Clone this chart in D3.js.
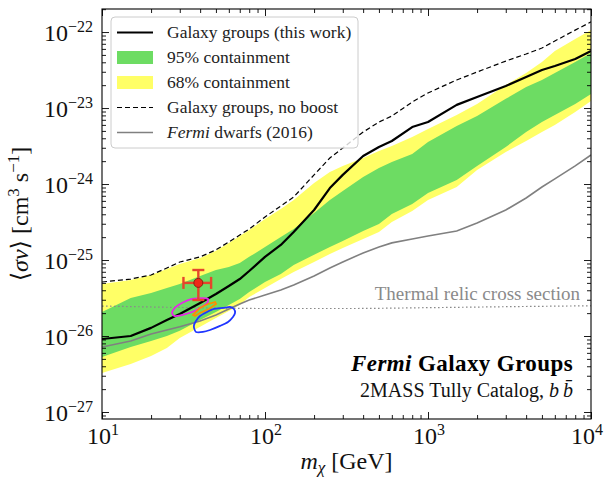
<!DOCTYPE html>
<html>
<head>
<meta charset="utf-8">
<script src="https://cdn.jsdelivr.net/npm/d3@7"></script>
<style>
  body { margin: 0; background: #fff; }
  svg text { font-family: "Liberation Serif", "Times New Roman", "DejaVu Serif", serif; }
</style>
</head>
<body>
<svg id="chart" width="606" height="481"></svg>
<script>
// Dark-matter mass grid (GeV)
const masses = [10, 15, 20, 25, 30, 40, 50, 60, 70, 80, 100, 125, 150, 200, 250, 300, 400, 500, 600, 800,
                1000, 1500, 2000, 3000, 4000, 5000, 6000, 8000, 10000];

// Upper limits on <sigma v> (cm^3 s^-1), b-bbar channel
const limitGroups = [9.13e-27, 1.00e-26, 1.28e-26, 1.62e-26, 1.95e-26, 2.72e-26, 3.57e-26, 4.55e-26, 5.62e-26, 7.17e-26,
                     1.10e-25, 1.58e-25, 2.34e-25, 4.55e-25, 8.86e-25, 1.32e-24, 2.34e-24, 3.07e-24, 3.68e-24, 5.62e-24,
                     6.55e-24, 1.10e-23, 1.40e-23, 1.95e-23, 2.56e-23, 3.16e-23, 3.57e-23, 4.41e-23, 5.62e-23];
const limitNoBoost = [5.14e-26, 5.62e-26, 6.35e-26, 7.85e-26, 9.41e-26, 1.10e-25, 1.36e-25, 1.73e-25, 2.13e-25, 2.56e-25,
                      3.68e-25, 5.14e-25, 6.75e-25, 1.32e-24, 2.20e-24, 2.98e-24, 4.83e-24, 6.55e-24, 7.85e-24, 1.20e-23,
                      1.58e-23, 2.34e-23, 2.98e-23, 4.15e-23, 5.14e-23, 6.16e-23, 7.62e-23, 1.06e-22, 1.36e-22];
const dwarfs2016 = [7.17e-27, 8.59e-27, 1.06e-26, 1.20e-26, 1.32e-26, 1.58e-26, 1.89e-26, 2.27e-26, 2.64e-26, 2.98e-26,
                    3.46e-26, 4.03e-26, 4.69e-26, 6.16e-26, 7.85e-26, 9.41e-26, 1.24e-25, 1.48e-25, 1.68e-25, 1.89e-25,
                    2.07e-25, 2.41e-25, 3.07e-25, 4.55e-25, 6.55e-25, 9.13e-25, 1.17e-24, 1.73e-24, 2.41e-24];

// Containment bands of the expected limit
const band95Hi = [2.07e-26, 3.16e-26, 3.68e-26, 4.28e-26, 4.83e-26, 6.16e-26, 7.39e-26, 8.09e-26, 9.13e-26, 1.10e-25,
                  1.48e-25, 2.01e-25, 2.56e-25, 4.15e-25, 6.16e-25, 8.09e-25, 1.24e-24, 1.62e-24, 1.95e-24, 2.48e-24,
                  3.57e-24, 5.80e-24, 7.85e-24, 1.32e-23, 1.89e-23, 2.34e-23, 2.89e-23, 4.03e-23, 5.29e-23];
const band95Lo = [5.29e-27, 7.17e-27, 8.59e-27, 1.00e-26, 1.17e-26, 1.62e-26, 2.07e-26, 2.56e-26, 3.07e-26, 3.79e-26,
                  5.14e-26, 6.55e-26, 8.59e-26, 1.17e-25, 1.48e-25, 1.78e-25, 2.41e-25, 2.98e-25, 4.03e-25, 5.46e-25,
                  7.62e-25, 1.13e-24, 1.73e-24, 3.07e-24, 4.83e-24, 6.55e-24, 8.09e-24, 1.13e-23, 1.53e-23];
const band68Hi = [4.83e-26, 5.46e-26, 6.35e-26, 7.62e-26, 8.86e-26, 1.06e-25, 1.32e-25, 1.68e-25, 2.07e-25, 2.48e-25,
                  3.46e-25, 4.69e-25, 6.16e-25, 1.03e-24, 1.44e-24, 1.73e-24, 2.20e-24, 2.72e-24, 3.16e-24, 4.15e-24,
                  5.29e-24, 8.09e-24, 1.13e-23, 2.01e-23, 2.89e-23, 4.03e-23, 5.62e-23, 8.09e-23, 1.06e-22];
const band68Lo = [3.26e-27, 4.28e-27, 5.46e-27, 6.95e-27, 9.41e-27, 1.32e-26, 1.73e-26, 2.13e-26, 2.56e-26, 3.26e-26,
                  4.28e-26, 5.62e-26, 6.95e-26, 9.41e-26, 1.20e-25, 1.44e-25, 1.89e-25, 2.34e-25, 3.16e-25, 4.41e-25,
                  6.16e-25, 9.13e-25, 1.53e-24, 2.64e-24, 3.68e-24, 4.83e-24, 5.98e-24, 8.86e-24, 1.24e-23];

// Thermal relic cross section
const thermalMass = [10, 20, 50, 100, 300, 1000, 3000, 10000];
const thermalRelic = [2.48e-26, 2.41e-26, 2.34e-26, 2.30e-26, 2.30e-26, 2.36e-26, 2.43e-26, 2.50e-26];

// Galactic Center excess best fit and contours
const gcePoint = { mass: 39, sv: 5.0e-26 };
const gceMassRange = [31.6, 46.7];
const gceSvRange = [2.98e-26, 7.39e-26];
const contourMagenta = [[26.9, 2.01e-26], [28.4, 2.41e-26], [30.9, 2.72e-26], [35.7, 3.07e-26], [41.1, 3.16e-26],
                        [44.7, 3.07e-26], [44.1, 2.72e-26], [39.9, 2.34e-26], [35.7, 2.07e-26], [30.9, 1.89e-26],
                        [28.0, 1.83e-26]];
const contourOrange = [[36.2, 1.89e-26], [39.9, 2.34e-26], [44.7, 2.64e-26], [49.4, 2.80e-26], [50.1, 2.64e-26],
                       [45.3, 2.27e-26], [39.9, 2.01e-26], [37.2, 1.83e-26]];
const contourBlue = [[37.7, 1.58e-26], [39.9, 1.83e-26], [44.1, 2.07e-26], [48.7, 2.27e-26], [55.3, 2.34e-26],
                     [61.0, 2.41e-26], [64.5, 2.27e-26], [65.5, 2.01e-26], [63.6, 1.78e-26], [59.3, 1.53e-26],
                     [53.0, 1.36e-26], [46.0, 1.20e-26], [41.6, 1.13e-26], [37.7, 1.13e-26], [36.7, 1.28e-26],
                     [36.7, 1.40e-26]];

// Axis ticks and legend text
const xMajor = [10, 100, 1000, 10000];
const xMajorExp = ["1", "2", "3", "4"];
const yMajor = [1e-27, 1e-26, 1e-25, 1e-24, 1e-23, 1e-22];
const yMajorExp = ["\u221227", "\u221226", "\u221225", "\u221224", "\u221223", "\u221222"];
const legendLabels = ["Galaxy groups (this work)", "95% containment", "68% containment",
                      "Galaxy groups, no boost", "dwarfs (2016)"];

const L = 102, R = 591, T = 9, B = 419;
const svg = d3.select("#chart");

const x = d3.scaleLog().domain([10, 1e4]).range([L, R]);
const y = d3.scaleLog().domain([8.09e-28, 2.01e-22]).range([B, T]);

svg.append("defs").append("clipPath").attr("id", "plotclip")
  .append("rect").attr("x", L).attr("y", T).attr("width", R - L).attr("height", B - T);

const plot = svg.append("g").attr("clip-path", "url(#plotclip)");

const idx = d3.range(masses.length);
const area = (lo, hi) => d3.area().x(i => x(masses[i])).y0(i => y(lo[i])).y1(i => y(hi[i]));
const curve = vals => d3.line().x(i => x(masses[i])).y(i => y(vals[i]));

const YELLOW = "#ffff66", GREEN = "#6ddc63";
plot.append("path").attr("d", area(band68Lo, band68Hi)(idx)).attr("fill", YELLOW);
plot.append("path").attr("d", area(band95Lo, band95Hi)(idx)).attr("fill", GREEN);

// thermal relic (dotted)
plot.append("path")
  .attr("d", d3.line().x(d => x(d[0])).y(d => y(d[1])).curve(d3.curveMonotoneX)(d3.zip(thermalMass, thermalRelic)))
  .attr("fill", "none").attr("stroke", "#8a8a8a").attr("stroke-width", 1.2).attr("stroke-dasharray", "1.6,2.4");

plot.append("path").attr("d", curve(dwarfs2016)(idx))
  .attr("fill", "none").attr("stroke", "#808080").attr("stroke-width", 1.6);
plot.append("path").attr("d", curve(limitNoBoost)(idx))
  .attr("fill", "none").attr("stroke", "#000").attr("stroke-width", 1.2).attr("stroke-dasharray", "5,3");
plot.append("path").attr("d", curve(limitGroups)(idx))
  .attr("fill", "none").attr("stroke", "#000").attr("stroke-width", 2.2).attr("stroke-linejoin", "round");

// contours
const closed = d3.line().x(d => x(d[0])).y(d => y(d[1])).curve(d3.curveCardinalClosed.tension(0.3));
plot.append("path").attr("d", closed(contourMagenta)).attr("fill", "none").attr("stroke", "#e826e8").attr("stroke-width", 1.8);
plot.append("path").attr("d", d3.line().x(d => x(d[0])).y(d => y(d[1])).curve(d3.curveLinearClosed)(contourOrange))
  .attr("fill", "none").attr("stroke", "#ff8c00").attr("stroke-width", 1.8);
plot.append("path").attr("d", closed(contourBlue)).attr("fill", "none").attr("stroke", "#1f35ff").attr("stroke-width", 1.8);

// best-fit point with error bars
const EB = "#e5462b";
const px = x(gcePoint.mass), py = y(gcePoint.sv);
const eb = plot.append("g").attr("stroke", EB).attr("stroke-width", 2.4).attr("fill", "none");
eb.append("line").attr("x1", x(gceMassRange[0])).attr("x2", x(gceMassRange[1])).attr("y1", py).attr("y2", py);
eb.append("line").attr("x1", px).attr("x2", px).attr("y1", y(gceSvRange[0])).attr("y2", y(gceSvRange[1]));
[gceMassRange[0], gceMassRange[1]].forEach(m =>
  eb.append("line").attr("x1", x(m)).attr("x2", x(m)).attr("y1", py - 6).attr("y2", py + 6));
[gceSvRange[0], gceSvRange[1]].forEach(s =>
  eb.append("line").attr("x1", px - 6).attr("x2", px + 6).attr("y1", y(s)).attr("y2", y(s)));
plot.append("circle").attr("cx", px).attr("cy", py).attr("r", 4.5)
  .attr("fill", "#ee2a18").attr("stroke", "#8c1d10").attr("stroke-width", 1);

// ticks on all four sides, pointing inward
const xMinor = [];
[10, 100, 1000].forEach(d => { for (let k = 2; k <= 9; k++) xMinor.push(k * d); });
const yMinor = [];
[-28, -27, -26, -25, -24, -23, -22].forEach(e => {
  for (let k = 2; k <= 9; k++) { const v = k * Math.pow(10, e); if (v > y.domain()[0] && v < y.domain()[1]) yMinor.push(v); }
});
function ticks(gen, tr, vals, size) {
  svg.append("g").attr("transform", tr)
    .call(gen.tickValues(vals).tickSize(size).tickSizeOuter(0).tickFormat(""))
    .call(g => g.select(".domain").remove())
    .call(g => g.selectAll("line").attr("stroke", "#000").attr("stroke-width", 0.9));
}
ticks(d3.axisBottom(x), `translate(0,${B})`, xMajor, -7);
ticks(d3.axisBottom(x), `translate(0,${B})`, xMinor, -4);
ticks(d3.axisTop(x), `translate(0,${T})`, xMajor, -7);
ticks(d3.axisTop(x), `translate(0,${T})`, xMinor, -4);
ticks(d3.axisLeft(y), `translate(${L},0)`, yMajor, -7);
ticks(d3.axisLeft(y), `translate(${L},0)`, yMinor, -4);
ticks(d3.axisRight(y), `translate(${R},0)`, yMajor, -7);
ticks(d3.axisRight(y), `translate(${R},0)`, yMinor, -4);

svg.append("rect").attr("x", L).attr("y", T).attr("width", R - L).attr("height", B - T)
  .attr("fill", "none").attr("stroke", "#000").attr("stroke-width", 1.1);

// tick labels 10^n
function powerLabel(tx, ty, anchor, exp) {
  const t = svg.append("text").attr("x", tx).attr("y", ty).attr("text-anchor", anchor)
    .attr("font-size", 24).attr("fill", "#111");
  t.append("tspan").text("10");
  t.append("tspan").attr("dy", -8.5).attr("font-size", 16).text(exp);
}
yMajor.forEach((v, i) => powerLabel(93, y(v) + 8.5, "end", yMajorExp[i]));
// the last x label sits at the window edge, so it is nudged inward
xMajor.forEach((v, i) => powerLabel(x(v) + (i === xMajor.length - 1 ? -4 : 1), B + 24.5, "middle", xMajorExp[i]));

// axis titles
const xt = svg.append("text").attr("x", (L + R) / 2).attr("y", 469).attr("text-anchor", "middle")
  .attr("font-size", 24).attr("fill", "#111");
xt.append("tspan").attr("font-style", "italic").text("m");
xt.append("tspan").attr("font-style", "italic").attr("font-size", 17).attr("dy", 4).text("\u03c7");
xt.append("tspan").attr("dy", -4).text(" [GeV]");

const yt = svg.append("text").attr("transform", `translate(28,${(T + B) / 2}) rotate(-90)`)
  .attr("text-anchor", "middle").attr("font-size", 24).attr("fill", "#111");
yt.append("tspan").text("\u27e8");
yt.append("tspan").attr("font-style", "italic").text("\u03c3v");
yt.append("tspan").text("\u27e9 [cm");
yt.append("tspan").attr("font-size", 17).attr("dy", -9).text("3");
yt.append("tspan").attr("dy", 9).text(" s");
yt.append("tspan").attr("font-size", 17).attr("dy", -9).text("\u22121");
yt.append("tspan").attr("dy", 9).text("]");

// thermal relic label
svg.append("text").attr("x", 580).attr("y", 299.5).attr("text-anchor", "end")
  .attr("font-size", 19).attr("fill", "#8a8a8a").text("Thermal relic cross section");

// annotation
const a1 = svg.append("text").attr("x", 573).attr("y", 371).attr("text-anchor", "end")
  .attr("font-size", 23).attr("font-weight", "bold").attr("letter-spacing", 0.4).attr("fill", "#000");
a1.append("tspan").attr("font-style", "italic").text("Fermi");
a1.append("tspan").text(" Galaxy Groups");
const a2 = svg.append("text").attr("x", 573).attr("y", 397).attr("text-anchor", "end")
  .attr("font-size", 20).attr("fill", "#111");
a2.append("tspan").text("2MASS Tully Catalog, ");
a2.append("tspan").attr("font-style", "italic").text("b\u2009b\u0304");

// legend
const lg = svg.append("g");
lg.append("rect").attr("x", 111).attr("y", 17).attr("width", 247).attr("height", 131).attr("rx", 4)
  .attr("fill", "#fff").attr("fill-opacity", 0.8).attr("stroke", "#cccccc").attr("stroke-width", 1);
const rowY = i => 32.5 + i * 25;
const hx0 = 117, hx1 = 153;
lg.append("line").attr("x1", hx0).attr("x2", hx1).attr("y1", rowY(0)).attr("y2", rowY(0))
  .attr("stroke", "#000").attr("stroke-width", 2.2);
lg.append("rect").attr("x", hx0).attr("y", rowY(1) - 6.5).attr("width", hx1 - hx0).attr("height", 13).attr("fill", GREEN);
lg.append("rect").attr("x", hx0).attr("y", rowY(2) - 6.5).attr("width", hx1 - hx0).attr("height", 13).attr("fill", YELLOW);
lg.append("line").attr("x1", hx0).attr("x2", hx1).attr("y1", rowY(3)).attr("y2", rowY(3))
  .attr("stroke", "#000").attr("stroke-width", 1.2).attr("stroke-dasharray", "5,3");
lg.append("line").attr("x1", hx0).attr("x2", hx1).attr("y1", rowY(4)).attr("y2", rowY(4))
  .attr("stroke", "#808080").attr("stroke-width", 1.6);
legendLabels.forEach((lab, i) => {
  const t = lg.append("text").attr("x", 167).attr("y", rowY(i) + 5.5).attr("font-size", 17.5).attr("fill", "#222");
  if (i === 4) {
    t.append("tspan").attr("font-style", "italic").text("Fermi");
    t.append("tspan").text(" " + lab);
  } else {
    t.text(lab);
  }
});
</script>
</body>
</html>
